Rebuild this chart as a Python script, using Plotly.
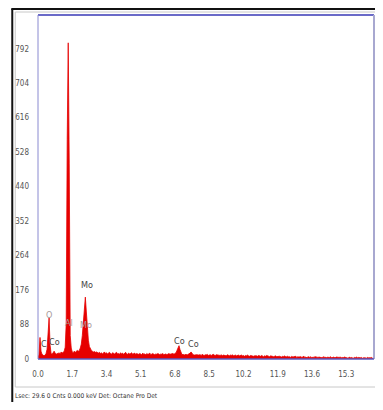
import plotly.graph_objects as go

# ---- data (counts per 0.05 keV channel) ----
energy_step = 0.05
counts = [
    0, 12, 55, 20, 12, 9, 8, 10, 14, 25, 70, 105, 35, 14, 12, 16, 20, 15, 12, 14,
    14, 16, 13, 18, 15, 17, 20, 30, 90, 560, 807, 500, 60, 28, 18, 16, 20, 17, 19, 22,
    20, 22, 28, 38, 60, 100, 145, 158, 120, 75, 48, 32, 26, 22, 20, 18, 19, 17, 18, 16,
    15, 17, 14, 16, 13, 15, 18, 14, 16, 13, 15, 17, 14, 12, 16, 14, 13, 15, 17, 13,
    14, 12, 16, 13, 15, 12, 14, 17, 13, 12, 15, 13, 14, 16, 12, 13, 15, 12, 14, 13,
    12, 14, 13, 11, 15, 12, 13, 11, 14, 12, 13, 15, 11, 12, 14, 12, 11, 13, 12, 14,
    12, 11, 13, 12, 14, 11, 12, 13, 11, 12, 14, 12, 13, 15, 14, 12, 13, 16, 22, 30,
    34, 24, 15, 11, 12, 10, 11, 12, 10, 11, 12, 15, 18, 13, 11, 10, 11, 10, 11, 10,
    10, 11, 9, 12, 10, 9, 11, 10, 12, 9, 10, 11, 9, 10, 12, 10, 9, 11, 10, 9,
    10, 9, 11, 8, 10, 9, 10, 8, 11, 9, 8, 10, 9, 11, 8, 9, 10, 8, 9, 10,
    8, 9, 10, 8, 9, 7, 9, 8, 10, 8, 7, 9, 8, 9, 7, 8, 9, 8, 7, 9,
    8, 7, 9, 8, 6, 8, 7, 9, 8, 7, 6, 8, 7, 8, 6, 7, 8, 6, 7, 8,
    7, 6, 5, 7, 6, 8, 5, 6, 7, 5, 6, 4, 7, 5, 6, 5, 7, 4, 6, 5,
    5, 6, 4, 5, 7, 4, 5, 3, 6, 5, 4, 6, 3, 5, 4, 6, 5, 3, 4, 5,
    4, 5, 3, 6, 4, 5, 3, 4, 5, 3, 6, 4, 3, 5, 4, 3, 5, 4, 3, 4,
    5, 3, 4, 3, 5, 4, 3, 4, 2, 5, 3, 4, 3, 2, 4, 3, 5, 3, 4, 3,
    3, 4, 2, 3, 4, 3, 2, 4, 3, 2, 3, 4, 2, 3, 3, 2, 4, 3,
]
energy = [round(i * energy_step, 2) for i in range(len(counts))]

x_ticks = [0.0, 1.7, 3.4, 5.1, 6.8, 8.5, 10.2, 11.9, 13.6, 15.3]
y_ticks = [0, 88, 176, 264, 352, 440, 528, 616, 704, 792]
x_max = 16.68

peak_labels = ["C", "Co", "O", "Al", "Mo", "Mo", "Co", "Co"]
peak_label_x = [0.30, 0.83, 0.54, 1.52, 2.41, 2.36, 7.02, 7.71]
peak_label_y = [38, 43, 112, 92, 189, 87, 46, 38]
peak_label_on_peak = [False, False, True, True, False, True, False, False]

caption = "Lsec: 29.6 0 Cnts 0.000 keV Det: Octane Pro Det"

FONT = "Liberation Sans Narrow, DejaVu Sans Condensed, Arial Narrow, sans-serif"

# page has an 8px body margin: figure sits at (8, 8) on the page;
# keep the document no taller than the window so no scrollbar appears
OFF = 8
W, H = 383 - OFF, 410 - 2 * OFF
L, T = 35 - OFF, 15 - OFF
PLOT_RIGHT = 374.5
R = W - (PLOT_RIGHT - OFF)
B = H - (359 - OFF)
pw, ph = W - L - R, H - T - B


def px(x):  # page pixel x -> paper
    return (x - OFF - L) / pw


def py(y):  # page pixel y -> paper
    return (H - B - (y - OFF)) / ph


fig = go.Figure()
fig.add_trace(go.Scatter(
    x=energy, y=counts, mode="lines", fill="tozeroy",
    line=dict(color="#e60000", width=0.8), fillcolor="#e60000",
    hoverinfo="skip", showlegend=False,
))

for t, xv, yv, on in zip(peak_labels, peak_label_x, peak_label_y, peak_label_on_peak):
    fig.add_annotation(x=xv, y=yv, text=t, showarrow=False, xref="x", yref="y",
                       font=dict(family=FONT, size=9,
                                 color="#a89a9a" if on else "#444444"))

shapes = [
    # outer black frame (top and left)
    dict(type="line", xref="paper", yref="paper", x0=px(8), x1=px(383), y0=py(9), y1=py(9),
         line=dict(color="#111111", width=2)),
    dict(type="line", xref="paper", yref="paper", x0=px(9), x1=px(9), y0=py(9), y1=py(402),
         line=dict(color="#111111", width=2)),
    # grey panel
    dict(type="rect", xref="paper", yref="paper", x0=px(12), x1=px(376.5), y0=py(12), y1=py(387),
         line=dict(color="#c8c8c8", width=1), layer="below"),
    # plot frame lines
    dict(type="line", xref="paper", yref="paper", x0=0, x1=1, y0=1, y1=1,
         line=dict(color="#6a6ac8", width=2)),
    dict(type="line", xref="paper", yref="paper", x0=1, x1=1, y0=0, y1=1,
         line=dict(color="#a8a8d0", width=2)),
    dict(type="line", xref="paper", yref="paper", x0=0, x1=1, y0=0, y1=0,
         line=dict(color="#5a5ac0", width=1.5)),
    dict(type="line", xref="paper", yref="paper", x0=0, x1=0, y0=0, y1=1,
         line=dict(color="#8a8ad0", width=1)),
]

fig.add_annotation(xref="paper", yref="paper", x=px(10), y=py(396), xanchor="left", yanchor="middle",
                   text=caption, showarrow=False,
                   font=dict(family=FONT, size=6.5, color="#333333"))

fig.update_layout(
    width=W, height=H,
    margin=dict(l=L, r=R, t=T, b=B, pad=0),
    paper_bgcolor="white", plot_bgcolor="white",
    shapes=shapes,
    xaxis=dict(range=[0, x_max], tickvals=x_ticks, ticktext=[f"{v:.1f}" for v in x_ticks],
               showgrid=False, zeroline=False, showline=False, ticks="",
               ticklabelstandoff=9,
               tickfont=dict(family=FONT, size=8, color="#555555")),
    yaxis=dict(range=[0, 878], tickvals=y_ticks, ticktext=[str(v) for v in y_ticks],
               showgrid=False, zeroline=False, showline=False, ticks="",
               ticklabelstandoff=8,
               tickfont=dict(family=FONT, size=8, color="#555555")),
)

fig.write_html("out.html")
